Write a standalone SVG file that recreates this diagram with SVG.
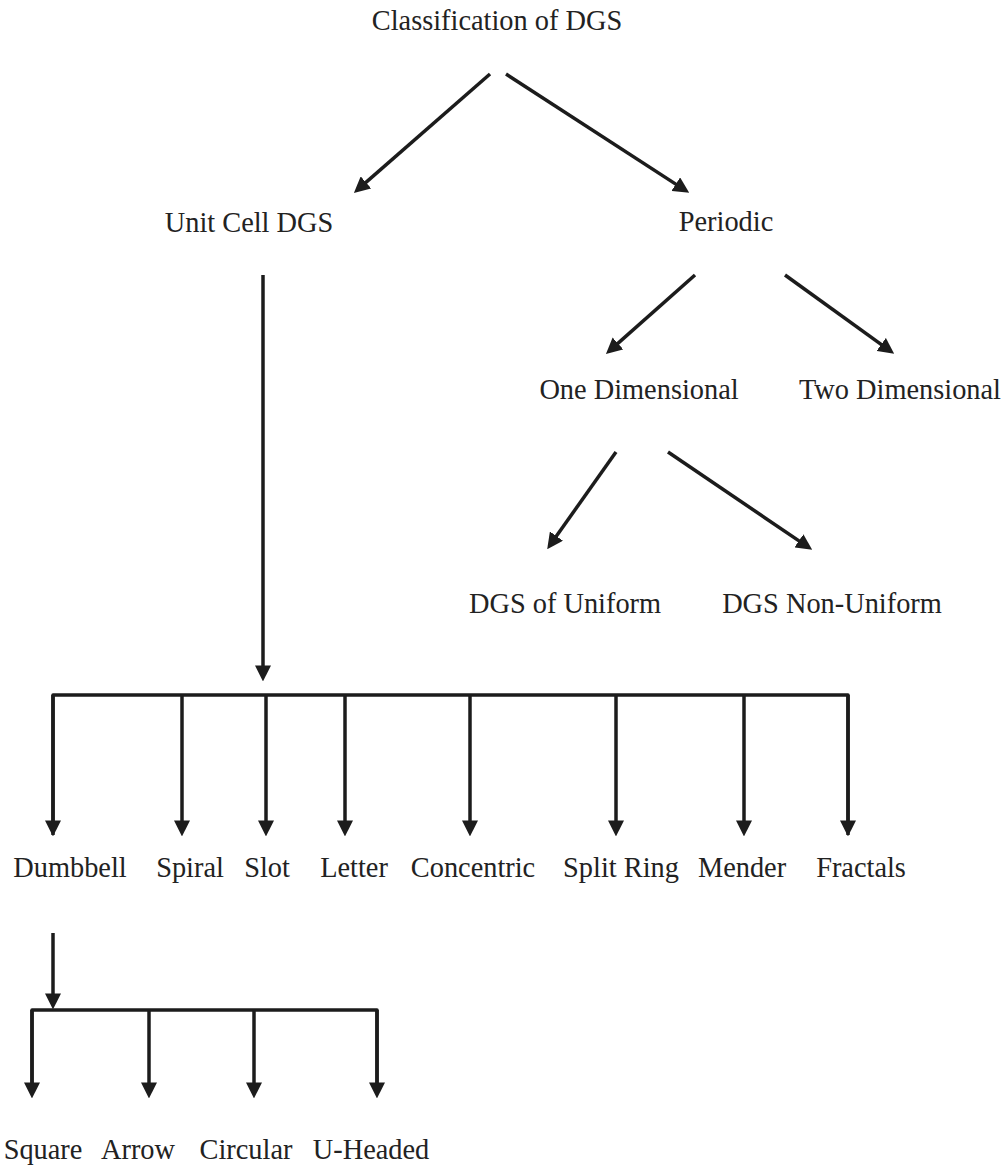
<svg xmlns="http://www.w3.org/2000/svg" width="1008" height="1169" viewBox="0 0 1008 1169">
<style>
text{font-family:"Liberation Serif","Times New Roman",serif;font-size:30.5px;fill:#222;text-anchor:middle}
.c{stroke:#1c1c1c;stroke-width:3.5;fill:none;marker-end:url(#ah)}
.b{stroke:#1c1c1c;stroke-width:3.5;fill:none;stroke-linejoin:round}
</style>
<defs>
<marker id="ah" markerUnits="userSpaceOnUse" markerWidth="16" markerHeight="16" viewBox="0 0 14 14" refX="4" refY="7" orient="auto">
<path d="M0,0 L14,7 L0,14 z" fill="#1c1c1c"/>
</marker>
</defs>
<rect width="1008" height="1169" fill="#fff"/>
<g id="connectors">
<line class="c" x1="490" y1="74" x2="362.5" y2="185.4"/>
<line class="c" x1="506" y1="74" x2="679.6" y2="186.6"/>
<line class="c" x1="695" y1="275" x2="614.5" y2="346.4"/>
<line class="c" x1="785" y1="275" x2="884.9" y2="347.1"/>
<line class="c" x1="616" y1="452" x2="553.8" y2="539.8"/>
<line class="c" x1="668" y1="452" x2="802.7" y2="543.4"/>
<line class="c" x1="263" y1="275" x2="263" y2="670"/>
<path class="b" d="M53,835 V695 H848 V835"/>
<line class="c" x1="53" y1="695" x2="53" y2="825"/>
<line class="c" x1="182" y1="695" x2="182" y2="825"/>
<line class="c" x1="266" y1="695" x2="266" y2="825"/>
<line class="c" x1="345" y1="695" x2="345" y2="825"/>
<line class="c" x1="470" y1="695" x2="470" y2="825"/>
<line class="c" x1="616" y1="695" x2="616" y2="825"/>
<line class="c" x1="744" y1="695" x2="744" y2="825"/>
<line class="c" x1="848" y1="695" x2="848" y2="825"/>
<line class="c" x1="53" y1="933" x2="53" y2="998"/>
<path class="b" d="M32,1087 V1010 H377 V1087"/>
<line class="c" x1="32" y1="1010" x2="32" y2="1087"/>
<line class="c" x1="149" y1="1010" x2="149" y2="1087"/>
<line class="c" x1="254" y1="1010" x2="254" y2="1087"/>
<line class="c" x1="377" y1="1010" x2="377" y2="1087"/>
</g>
<g id="n-root"><text transform="translate(497,30) scale(0.93,1)">Classification of DGS</text></g>
<g id="n-unitcell"><text transform="translate(249,232) scale(0.93,1)">Unit Cell DGS</text></g>
<g id="n-periodic"><text transform="translate(726,231) scale(0.93,1)">Periodic</text></g>
<g id="n-one"><text transform="translate(639,399) scale(0.93,1)">One Dimensional</text></g>
<g id="n-two"><text transform="translate(900,399) scale(0.93,1)">Two Dimensional</text></g>
<g id="n-uniform"><text transform="translate(565,613) scale(0.93,1)">DGS of Uniform</text></g>
<g id="n-nonuniform"><text transform="translate(832,613) scale(0.93,1)">DGS Non-Uniform</text></g>
<g id="n-dumbbell"><text transform="translate(70,877) scale(0.93,1)">Dumbbell</text></g>
<g id="n-spiral"><text transform="translate(190,877) scale(0.93,1)">Spiral</text></g>
<g id="n-slot"><text transform="translate(267,877) scale(0.93,1)">Slot</text></g>
<g id="n-letter"><text transform="translate(354,877) scale(0.93,1)">Letter</text></g>
<g id="n-concentric"><text transform="translate(473,877) scale(0.93,1)">Concentric</text></g>
<g id="n-splitring"><text transform="translate(621,877) scale(0.93,1)">Split Ring</text></g>
<g id="n-mender"><text transform="translate(742,877) scale(0.93,1)">Mender</text></g>
<g id="n-fractals"><text transform="translate(861,877) scale(0.93,1)">Fractals</text></g>
<g id="n-square"><text transform="translate(43,1159) scale(0.93,1)">Square</text></g>
<g id="n-arrow"><text transform="translate(138,1159) scale(0.93,1)">Arrow</text></g>
<g id="n-circular"><text transform="translate(246,1159) scale(0.93,1)">Circular</text></g>
<g id="n-uheaded"><text transform="translate(371,1159) scale(0.93,1)">U-Headed</text></g>
</svg>
